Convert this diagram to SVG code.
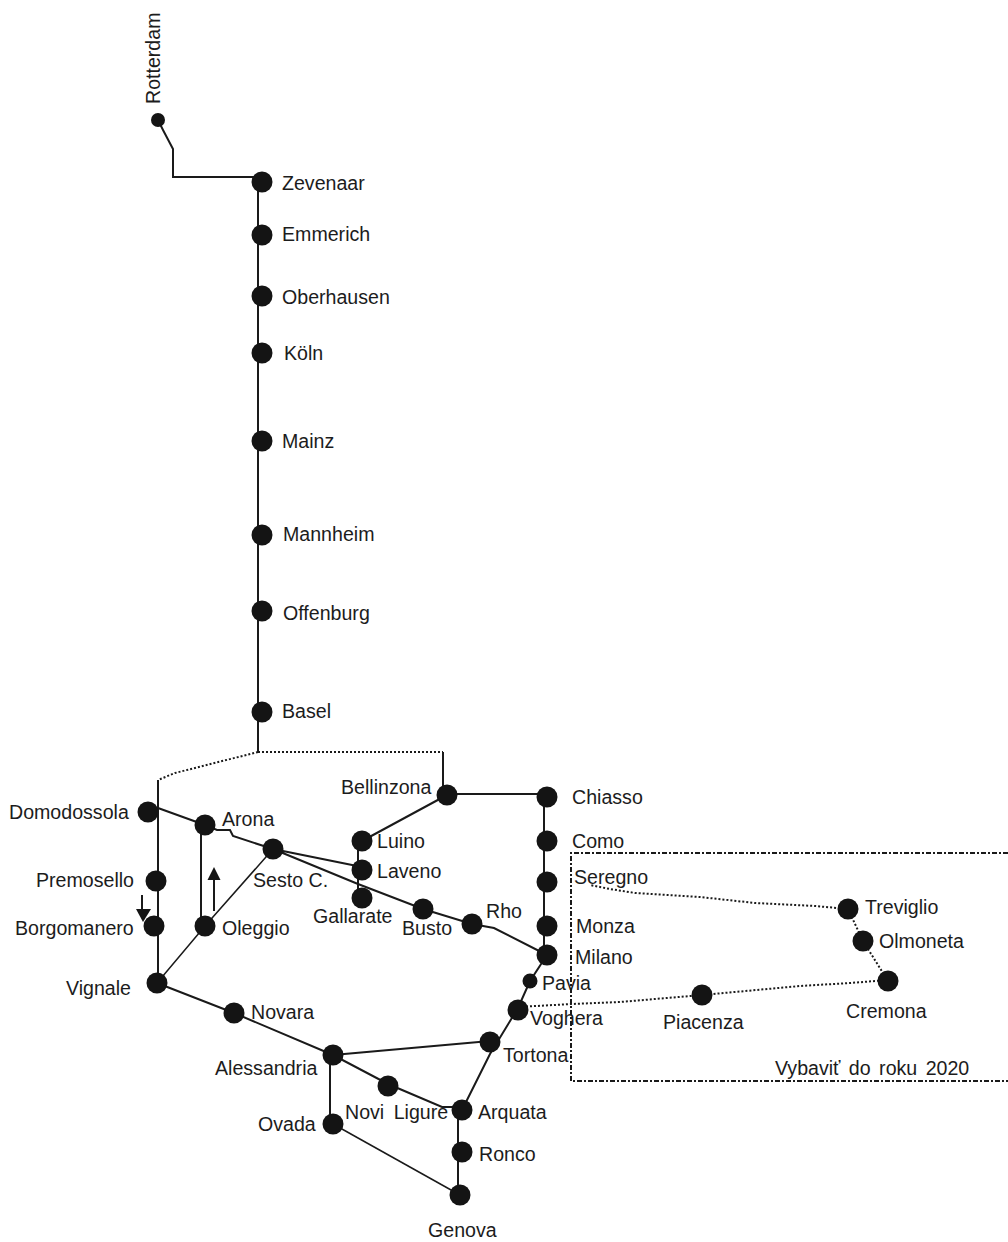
<svg xmlns="http://www.w3.org/2000/svg" width="1008" height="1242" viewBox="0 0 1008 1242">
<style>
text{font-family:"Liberation Sans",Arial,sans-serif;font-size:19.6px;fill:#1c1c1c}
.n{fill:#141414}
.s{fill:none;stroke:#1a1a1a;stroke-width:2}
.t{fill:none;stroke:#1a1a1a;stroke-width:1.5}
.d{fill:none;stroke:#1a1a1a;stroke-width:2;stroke-dasharray:2 2}
.b{fill:none;stroke:#1a1a1a;stroke-width:2;stroke-dasharray:5 2 2 2}
</style>
<rect width="1008" height="1242" fill="#fff"/>
<g id="connectors">
<path class="s" d="M158 120L163 130L173 149V177H262M258 177V752"/>
<path class="d" d="M258 752H443M258 752L175 773L158 780"/>
<path class="s" d="M443 752V795M447 794H547M544 797V955"/>
<path class="s" d="M158 780V983M158 808L205 825L217 830H230L233 836L273 849L362 867M273 849L358 884L423 909L472 924L494 928L547 955"/>
<path class="s" d="M201 825V926"/>
<path class="t" d="M157 983L205 926L273 849"/>
<path class="s" d="M447 795L362 841M358 841V898"/>
<path class="s" d="M157 983L234 1013L333 1055L388 1084L442 1107H462M333 1055L490 1041M330 1055V1124M458 1110V1195"/>
<path class="t" d="M333 1124L460 1195"/>
<path class="s" d="M547 955L530 981L518 1008L490 1054L462 1110"/>
<path class="d" d="M518 1007L572 1004L620 1002L702 995L800 986L850 983L888 980M888 981L863 941L848 909M848 909L815 906L755 903L700 897L635 893L610 889L590 885"/>
<path class="b" d="M1008 853H571V1081H1008"/>
</g>
<g id="arrows">
<path class="s" d="M214 911V878"/><path class="n" d="M214 867L207.500 880H220.500Z"/>
<path class="s" d="M142 895V914"/><path class="n" d="M143 922L136 909H151Z"/>
</g>
<g id="rotterdam"><circle class="n" cx="158" cy="120" r="7"/><text transform="translate(160 104) rotate(-90)">Rotterdam</text></g>
<g id="zevenaar"><circle class="n" cx="262" cy="182" r="10.500"/><text x="282" y="190">Zevenaar</text></g>
<g id="emmerich"><circle class="n" cx="262" cy="235" r="10.500"/><text x="282" y="241">Emmerich</text></g>
<g id="oberhausen"><circle class="n" cx="262" cy="296" r="10.500"/><text x="282" y="304">Oberhausen</text></g>
<g id="koln"><circle class="n" cx="262" cy="353" r="10.500"/><text x="284" y="360">Köln</text></g>
<g id="mainz"><circle class="n" cx="262" cy="441" r="10.500"/><text x="282" y="448">Mainz</text></g>
<g id="mannheim"><circle class="n" cx="262" cy="535" r="10.500"/><text x="283" y="541">Mannheim</text></g>
<g id="offenburg"><circle class="n" cx="262" cy="611" r="10.500"/><text x="283" y="620">Offenburg</text></g>
<g id="basel"><circle class="n" cx="262" cy="712" r="10.500"/><text x="282" y="718">Basel</text></g>
<g id="domodossola"><circle class="n" cx="148" cy="812" r="10.500"/><text x="9" y="819">Domodossola</text></g>
<g id="arona"><circle class="n" cx="205" cy="825" r="10.500"/><text x="222" y="826">Arona</text></g>
<g id="sesto"><circle class="n" cx="273" cy="849" r="10.500"/><text x="253" y="887">Sesto C.</text></g>
<g id="premosello"><circle class="n" cx="156" cy="881" r="10.500"/><text x="36" y="887">Premosello</text></g>
<g id="borgomanero"><circle class="n" cx="154" cy="926" r="10.500"/><text x="15" y="935">Borgomanero</text></g>
<g id="oleggio"><circle class="n" cx="205" cy="926" r="10.500"/><text x="222" y="935">Oleggio</text></g>
<g id="vignale"><circle class="n" cx="157" cy="983" r="10.500"/><text x="66" y="995">Vignale</text></g>
<g id="novara"><circle class="n" cx="234" cy="1013" r="10.500"/><text x="251" y="1019">Novara</text></g>
<g id="bellinzona"><circle class="n" cx="447" cy="795" r="10.500"/><text x="341" y="794">Bellinzona</text></g>
<g id="luino"><circle class="n" cx="362" cy="841" r="10.500"/><text x="377" y="848">Luino</text></g>
<g id="laveno"><circle class="n" cx="362" cy="870" r="10.500"/><text x="377" y="878">Laveno</text></g>
<g id="gallarate"><circle class="n" cx="362" cy="898" r="10.500"/><text x="313" y="923">Gallarate</text></g>
<g id="busto"><circle class="n" cx="423" cy="909" r="10.500"/><text x="402" y="935">Busto</text></g>
<g id="rho"><circle class="n" cx="472" cy="924" r="10.500"/><text x="486" y="918">Rho</text></g>
<g id="chiasso"><circle class="n" cx="547" cy="797" r="10.500"/><text x="572" y="804">Chiasso</text></g>
<g id="como"><circle class="n" cx="547" cy="841" r="10.500"/><text x="572" y="848">Como</text></g>
<g id="seregno"><circle class="n" cx="547" cy="882" r="10.500"/><text x="574" y="884">Seregno</text></g>
<g id="monza"><circle class="n" cx="547" cy="926" r="10.500"/><text x="576" y="933">Monza</text></g>
<g id="milano"><circle class="n" cx="547" cy="955" r="10.500"/><text x="575" y="964">Milano</text></g>
<g id="pavia"><circle class="n" cx="530" cy="981" r="7.500"/><text x="542" y="990">Pavia</text></g>
<g id="voghera"><circle class="n" cx="518" cy="1010" r="10.500"/><text x="530" y="1025">Voghera</text></g>
<g id="tortona"><circle class="n" cx="490" cy="1042" r="10.500"/><text x="503" y="1062">Tortona</text></g>
<g id="alessandria"><circle class="n" cx="333" cy="1055" r="10.500"/><text x="215" y="1075">Alessandria</text></g>
<g id="novi"><circle class="n" cx="388" cy="1086" r="10.500"/><text x="345" y="1119" word-spacing="4">Novi Ligure</text></g>
<g id="arquata"><circle class="n" cx="462" cy="1110" r="10.500"/><text x="478" y="1119">Arquata</text></g>
<g id="ronco"><circle class="n" cx="462" cy="1152" r="10.500"/><text x="479" y="1161">Ronco</text></g>
<g id="ovada"><circle class="n" cx="333" cy="1124" r="10.500"/><text x="258" y="1131">Ovada</text></g>
<g id="genova"><circle class="n" cx="460" cy="1195" r="10.500"/><text x="428" y="1237">Genova</text></g>
<g id="treviglio"><circle class="n" cx="848" cy="909" r="10.500"/><text x="865" y="914">Treviglio</text></g>
<g id="olmoneta"><circle class="n" cx="863" cy="941" r="10.500"/><text x="879" y="948">Olmoneta</text></g>
<g id="cremona"><circle class="n" cx="888" cy="981" r="10.500"/><text x="846" y="1018">Cremona</text></g>
<g id="piacenza"><circle class="n" cx="702" cy="995" r="10.500"/><text x="663" y="1029">Piacenza</text></g>
<text id="note" x="775" y="1075" word-spacing="3">Vybaviť do roku 2020</text>
</svg>
